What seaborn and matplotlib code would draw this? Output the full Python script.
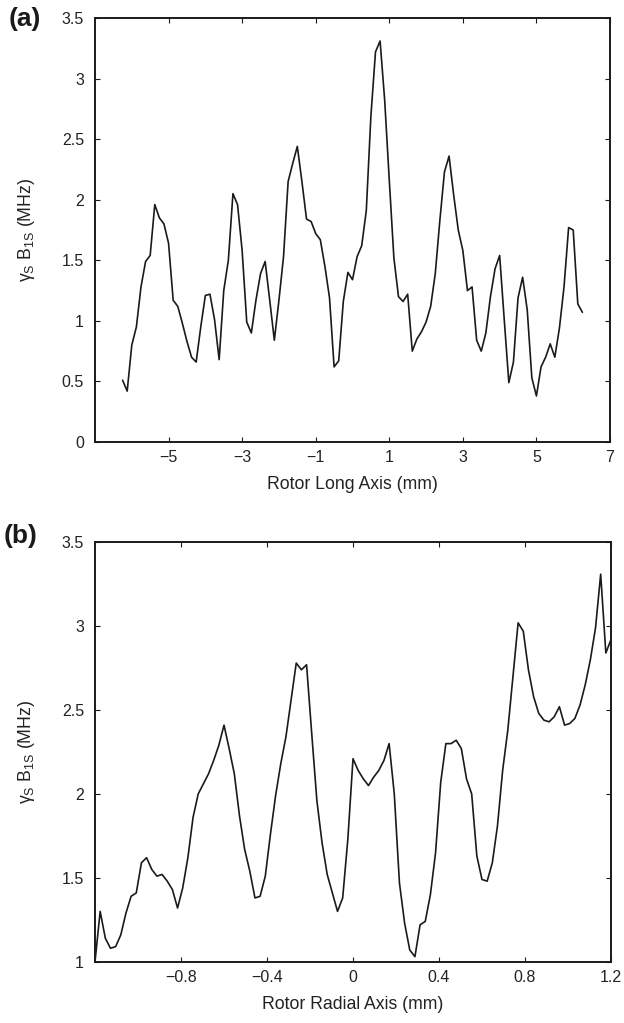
import numpy as np
import pandas as pd
import matplotlib
matplotlib.use("Agg")
import matplotlib.pyplot as plt
import seaborn as sns

# ---- data ----
long_axis_mm = np.linspace(-6.25, 6.25, 101)
long_b1 = [0.51, 0.42, 0.80, 0.95, 1.28, 1.49, 1.54, 1.96, 1.85, 1.80,
           1.64, 1.17, 1.12, 0.98, 0.83, 0.70, 0.66, 0.95, 1.21, 1.22,
           1.01, 0.68, 1.25, 1.50, 2.05, 1.96, 1.58, 0.99, 0.90, 1.17,
           1.39, 1.49, 1.17, 0.84, 1.17, 1.53, 2.15, 2.30, 2.44, 2.15,
           1.84, 1.82, 1.72, 1.67, 1.45, 1.19, 0.62, 0.67, 1.16, 1.40,
           1.34, 1.53, 1.62, 1.91, 2.69, 3.22, 3.31, 2.82, 2.16, 1.52,
           1.20, 1.16, 1.22, 0.75, 0.85, 0.91, 0.99, 1.12, 1.39, 1.83,
           2.23, 2.36, 2.04, 1.75, 1.58, 1.25, 1.28, 0.84, 0.75, 0.90,
           1.20, 1.43, 1.54, 1.01, 0.49, 0.66, 1.19, 1.36, 1.09, 0.53,
           0.38, 0.62, 0.70, 0.81, 0.70, 0.94, 1.28, 1.77, 1.75, 1.14,
           1.07]

radial_axis_mm = np.linspace(-1.2, 1.2, 101)
radial_b1 = [1.00, 1.30, 1.14, 1.08, 1.09, 1.16, 1.29, 1.39, 1.41, 1.59,
             1.62, 1.55, 1.51, 1.52, 1.48, 1.43, 1.32, 1.44, 1.62, 1.86,
             2.00, 2.06, 2.12, 2.20, 2.29, 2.41, 2.27, 2.12, 1.87, 1.67,
             1.54, 1.38, 1.39, 1.51, 1.76, 1.99, 2.18, 2.34, 2.56, 2.78,
             2.74, 2.77, 2.36, 1.96, 1.71, 1.52, 1.41, 1.30, 1.38, 1.73,
             2.21, 2.14, 2.09, 2.05, 2.10, 2.14, 2.20, 2.30, 2.00, 1.47,
             1.23, 1.07, 1.03, 1.22, 1.24, 1.40, 1.65, 2.07, 2.30, 2.30,
             2.32, 2.27, 2.09, 2.00, 1.63, 1.49, 1.48, 1.59, 1.81, 2.14,
             2.38, 2.70, 3.02, 2.97, 2.74, 2.58, 2.48, 2.44, 2.43, 2.46,
             2.52, 2.41, 2.42, 2.45, 2.53, 2.65, 2.80, 2.99, 3.31, 2.84,
             2.92]

long_xticks = [-5, -3, -1, 1, 3, 5, 7]
long_yticks = [0, 0.5, 1, 1.5, 2, 2.5, 3, 3.5]
radial_xticks = [-0.8, -0.4, 0, 0.4, 0.8, 1.2]
radial_yticks = [1, 1.5, 2, 2.5, 3, 3.5]

panel_labels = ["(a)", "(b)"]
xlabels = ["Rotor Long Axis (mm)", "Rotor Radial Axis (mm)"]
ylabel = "γ$_\\mathregular{S}$ B$_\\mathregular{1S}$ (MHz)"

# ---- style ----
sns.set_style("ticks")
plt.rcParams["font.family"] = ["Liberation Sans", "DejaVu Sans"]
plt.rcParams["axes.linewidth"] = 1.4
plt.rcParams["axes.edgecolor"] = "#1a1a1a"

fig = plt.figure(figsize=(6.24, 10.23), dpi=100)
W, H = 624, 1023

def add_ax(left, top, right, bottom):
    return fig.add_axes([left / W, 1 - bottom / H, (right - left) / W, (bottom - top) / H])

ax_a = add_ax(95, 18, 610, 442)
ax_b = add_ax(95, 542.3, 611, 961.7)

df_a = pd.DataFrame({"x": long_axis_mm, "y": long_b1})
df_b = pd.DataFrame({"x": radial_axis_mm, "y": radial_b1})

sns.lineplot(data=df_a, x="x", y="y", ax=ax_a, color="#1a1a1a", linewidth=1.2, sort=False)
sns.lineplot(data=df_b, x="x", y="y", ax=ax_b, color="#1a1a1a", linewidth=1.2, sort=False)

def fmt(v):
    s = ("%g" % v)
    return s.replace("-", "\u2212")

configs = [
    (ax_a, (-7, 7), (0, 3.5), long_xticks, long_yticks, xlabels[0]),
    (ax_b, (-1.2, 1.2), (1, 3.5), radial_xticks, radial_yticks, xlabels[1]),
]
for ax, xl, yl, xt, yt, xlab in configs:
    ax.set_xlim(*xl)
    ax.set_ylim(*yl)
    ax.set_xticks(xt)
    ax.set_xticklabels([fmt(v) for v in xt])
    ax.set_yticks(yt)
    ax.set_yticklabels([fmt(v) for v in yt])
    for s in ax.spines.values():
        s.set_visible(True)
        s.set_linewidth(1.4)
        s.set_color("#1a1a1a")
    ax.tick_params(axis="both", which="both", direction="in", length=3.6, width=0.8,
                   top=True, right=True, labelsize=11.5, colors="#1a1a1a",
                   labelcolor="#222222")
    ax.tick_params(axis="x", pad=6)
    ax.tick_params(axis="y", pad=8)
    ax.set_xlabel(xlab, fontsize=12.7, color="#222222", labelpad=8)
    ax.set_ylabel(ylabel, fontsize=12.7, color="#222222", labelpad=8)

ax_a.yaxis.set_label_coords((37 - 95) / 515, 0.5)
ax_b.yaxis.set_label_coords((37 - 95) / 516, 0.5)

fig.text(25 / W, 1 - 19 / H, panel_labels[0], fontsize=19, fontweight="bold",
         ha="center", va="center", color="#1a1a1a")
fig.text(21 / W, 1 - 536 / H, panel_labels[1], fontsize=19, fontweight="bold",
         ha="center", va="center", color="#1a1a1a")

fig.savefig("out.png", dpi=100, facecolor="white")
